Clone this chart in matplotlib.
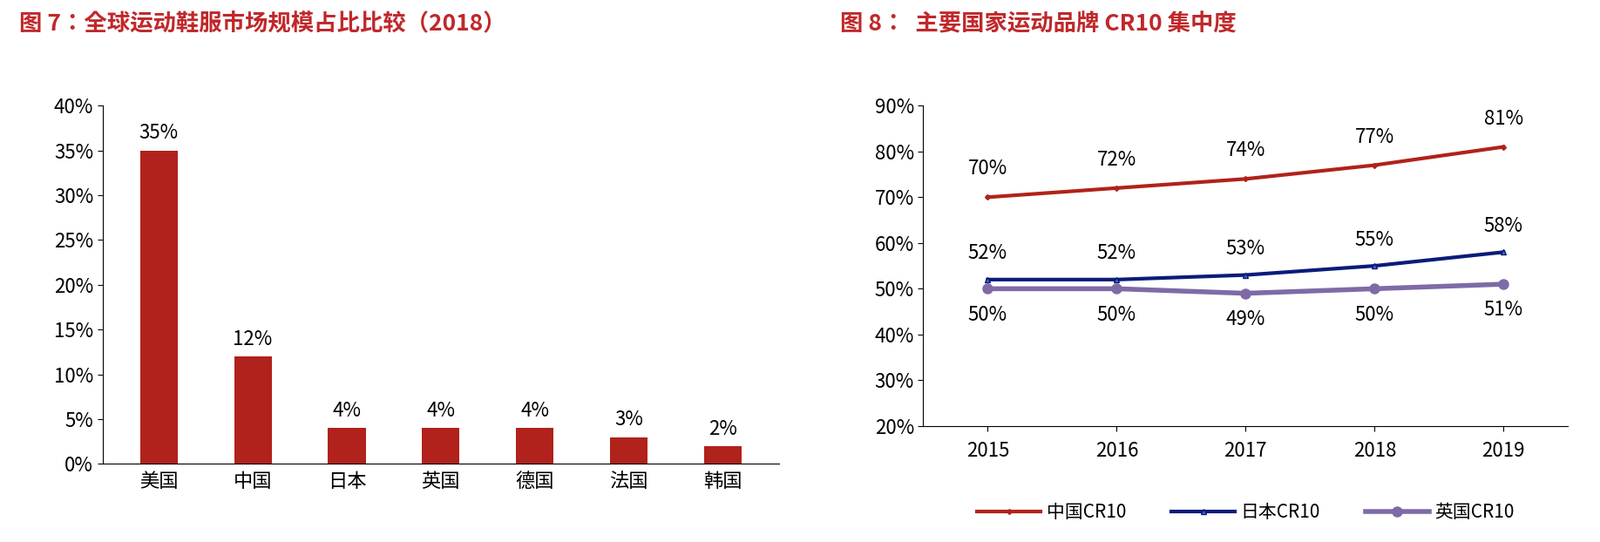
import matplotlib.pyplot as plt
from matplotlib.ticker import FuncFormatter

plt.rcParams["font.family"] = "sans-serif"
plt.rcParams["font.sans-serif"] = ["Noto Sans CJK SC", "Noto Sans CJK JP", "Noto Sans CJK TC",
                                   "Noto Sans CJK KR", "DejaVu Sans"]

countries = ["美国", "中国", "日本", "英国", "德国", "法国", "韩国"]
shares = [35, 12, 4, 4, 4, 3, 2]

years = ["2015", "2016", "2017", "2018", "2019"]
cn_cr10 = [70, 72, 74, 77, 81]
jp_cr10 = [52, 52, 53, 55, 58]
uk_cr10 = [50, 50, 49, 50, 51]

red = "#B0221B"
navy = "#0B1B7A"
purple = "#7E6BA6"
title_color = "#C0282B"
pct = FuncFormatter(lambda v, _: f"{v:.0f}%")

fig = plt.figure(figsize=(18.36, 6.22), dpi=100)
fig.text(0.012, 0.955, "图 7：全球运动鞋服市场规模占比比较（2018）", fontsize=19,
         fontweight="bold", color=title_color, va="center")
fig.text(0.525, 0.955, "图 8：  主要国家运动品牌 CR10 集中度", fontsize=19,
         fontweight="bold", color=title_color, va="center")

# left: bar chart
ax1 = fig.add_axes([0.064, 0.144, 0.423, 0.661])
x = range(len(countries))
ax1.bar(x, shares, width=0.4, color=red)
for i, v in zip(x, shares):
    ax1.text(i, v + 0.8, f"{v}%", ha="center", va="bottom", fontsize=16)
ax1.set_ylim(0, 40)
ax1.set_yticks(range(0, 41, 5))
ax1.yaxis.set_major_formatter(pct)
ax1.set_xticks(list(x))
ax1.set_xticklabels(countries)
ax1.set_xlim(-0.6, len(countries) - 0.4)
for s in ["top", "right"]:
    ax1.spines[s].set_visible(False)
ax1.tick_params(labelsize=16, length=4)
ax1.tick_params(axis="x", length=0, pad=6)

# right: line chart
ax2 = fig.add_axes([0.577, 0.214, 0.403, 0.591])
xs = range(len(years))
ax2.plot(xs, cn_cr10, color=red, lw=3, marker="D", ms=3, label="中国CR10")
ax2.plot(xs, jp_cr10, color=navy, lw=3, marker="^", ms=5, mfc="#4A6FC9", label="日本CR10")
ax2.plot(xs, uk_cr10, color=purple, lw=4, marker="o", ms=8, label="英国CR10")
for i in xs:
    ax2.text(i, cn_cr10[i] + 4, f"{cn_cr10[i]}%", ha="center", va="bottom", fontsize=16)
    ax2.text(i, jp_cr10[i] + 3.5, f"{jp_cr10[i]}%", ha="center", va="bottom", fontsize=16)
    ax2.text(i, uk_cr10[i] - 3.5, f"{uk_cr10[i]}%", ha="center", va="top", fontsize=16)
ax2.set_ylim(20, 90)
ax2.set_yticks(range(20, 91, 10))
ax2.yaxis.set_major_formatter(pct)
ax2.set_xticks(list(xs))
ax2.set_xticklabels(years)
ax2.set_xlim(-0.5, len(years) - 0.5)
for s in ["top", "right"]:
    ax2.spines[s].set_visible(False)
ax2.tick_params(labelsize=16, length=4)
ax2.tick_params(axis="x", pad=8)
ax2.legend(loc="center", bbox_to_anchor=(0.5, -0.27), ncol=3, frameon=False,
           fontsize=15, handlelength=3.5, columnspacing=2.5, handletextpad=0.3)

fig.savefig("out.png", dpi=100)
